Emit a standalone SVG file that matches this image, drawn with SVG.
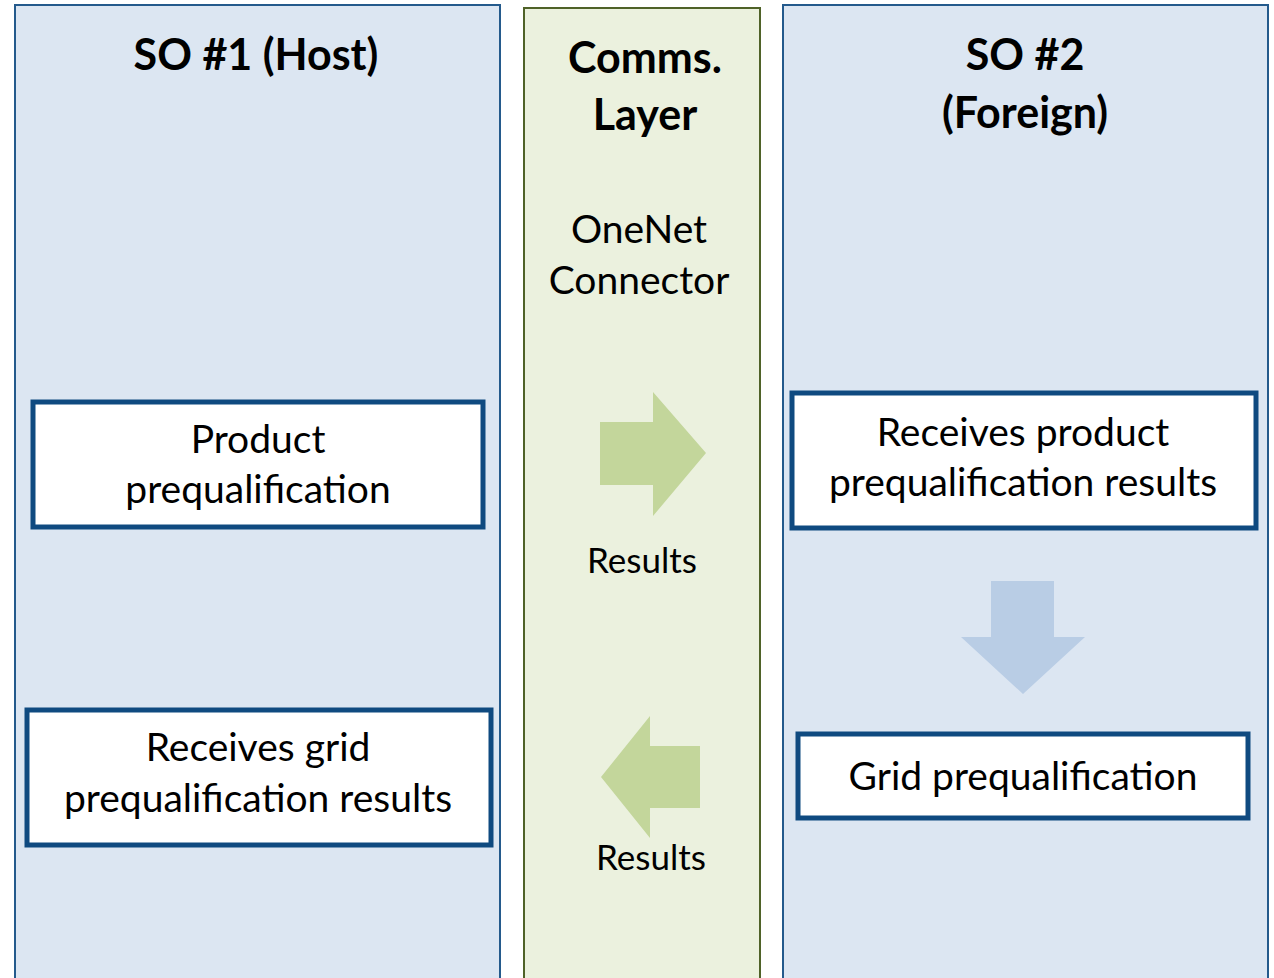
<svg xmlns="http://www.w3.org/2000/svg" width="1274" height="978" viewBox="0 0 1274 978">
<style>
.lane{fill:#DCE6F2;stroke:#245A8C;stroke-width:2}
.comms{fill:#EBF1DE;stroke:#4F6228;stroke-width:2}
.box{fill:#FFFFFF;stroke:#0F4A80;stroke-width:5}
.t{font-family:Lato,"Liberation Sans",sans-serif;fill:#000;text-anchor:middle}
.h{font-size:43px;font-weight:bold}
.b{font-size:39px}
.s{font-size:35px}
.ga{fill:#C3D69B}
.ba{fill:#B9CDE5}
</style>
<rect width="1274" height="978" fill="#FFFFFF"/>
<g id="lane-so1">
<rect class="lane" x="15" y="5" width="485" height="990"/>
<text class="t h" x="256" y="70">SO #1 (Host)</text>
</g>
<g id="lane-comms">
<rect class="comms" x="524" y="8" width="236" height="990"/>
<text class="t h" x="645" y="73">Comms.</text>
<text class="t h" x="645" y="130">Layer</text>
<text class="t b" x="639" y="243">OneNet</text>
<text class="t b" x="639" y="294">Connector</text>
</g>
<g id="lane-so2">
<rect class="lane" x="783" y="5" width="485" height="990"/>
<text class="t h" x="1025" y="70">SO #2</text>
<text class="t h" x="1025" y="128">(Foreign)</text>
</g>
<g id="node-product-prequal">
<rect class="box" x="33" y="402" width="450" height="125"/>
<text class="t b" x="258" y="453">Product</text>
<text class="t b" x="258" y="503">prequalification</text>
</g>
<g id="node-receives-grid">
<rect class="box" x="27" y="710" width="464" height="135"/>
<text class="t b" x="258" y="761">Receives grid</text>
<text class="t b" x="258" y="812">prequalification results</text>
</g>
<g id="node-receives-product">
<rect class="box" x="792" y="393" width="464" height="135"/>
<text class="t b" x="1023" y="446">Receives product</text>
<text class="t b" x="1023" y="496">prequalification results</text>
</g>
<g id="node-grid-prequal">
<rect class="box" x="798" y="734" width="450" height="84"/>
<text class="t b" x="1023" y="790">Grid prequalification</text>
</g>
<g id="connectors">
<polygon class="ga" points="600,422 653,422 653,392 706,453 653,516 653,485 600,485"/>
<text class="t s" x="642" y="573">Results</text>
<polygon class="ga" points="700,746 650,746 650,716 601,777 650,838 650,808 700,808"/>
<text class="t s" x="651" y="870">Results</text>
<polygon class="ba" points="991,581 1054,581 1054,637 1085,637 1023,694 961,637 991,637"/>
</g>
</svg>
